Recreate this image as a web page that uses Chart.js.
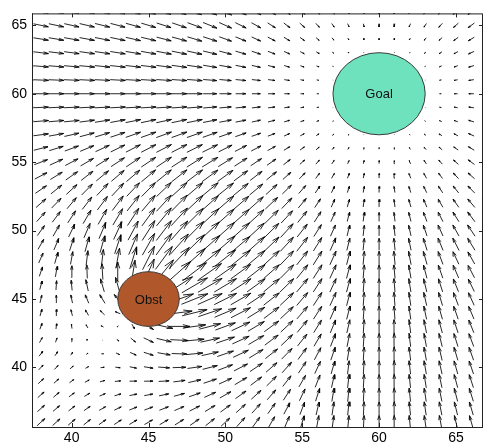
<!DOCTYPE html>
<html>
<head>
<meta charset="utf-8">
<script src="https://cdn.jsdelivr.net/npm/chart.js@4.4.1/dist/chart.umd.min.js"></script>
<style>
  html, body { margin: 0; padding: 0; background: #fff; }
  #wrap { width: 484px; height: 443px; }
</style>
</head>
<body>
<div id="wrap"><canvas id="fieldChart"></canvas></div>
<script>
// sample grid (data units)
var gridX = [37, 38, 39, 40, 41, 42, 43, 44, 45, 46, 47, 48, 49, 50, 51, 52,
             53, 54, 55, 56, 57, 58, 59, 60, 61, 62, 63, 64, 65, 66, 67];
var gridY = [35, 36, 37, 38, 39, 40, 41, 42, 43, 44, 45, 46, 47, 48, 49, 50,
             51, 52, 53, 54, 55, 56, 57, 58, 59, 60, 61, 62, 63, 64, 65, 66];
var xTicks = [40, 45, 50, 55, 60, 65];
var yTicks = [40, 45, 50, 55, 60, 65];

// goal (attracts) and obstacle (repels)
var goal = { x: 60, y: 60, r: 3, spread: 9, gain: 0.11, label: 'Goal' };
var obst = { x: 45, y: 45, r: 2, spread: 12, gain: 0.1, label: 'Obst' };

var FONT = '"Liberation Sans", Arial, Helvetica, sans-serif';

function fieldAt(px, py) {
  var u = 0, v = 0;
  var dx = goal.x - px, dy = goal.y - py, d = Math.hypot(dx, dy);
  if (d > goal.r) {
    var m = goal.gain * Math.min(d - goal.r, goal.spread);
    u += m * dx / d;
    v += m * dy / d;
  }
  dx = px - obst.x; dy = py - obst.y; d = Math.hypot(dx, dy);
  if (d < obst.r) return null;
  if (d <= obst.r + obst.spread) {
    var k = obst.gain * (obst.r + obst.spread - d);
    u += k * dx / d;
    v += k * dy / d;
  }
  return [u, v];
}

// arrows centred on the grid points, heads as two short strokes
var headLen = 0.33, headWid = 0.28;
var arrowData = [];
gridY.forEach(function (y) {
  gridX.forEach(function (x) {
    var f = fieldAt(x, y);
    if (!f) return;
    var u = f[0], v = f[1];
    if (Math.hypot(u, v) < 1e-6) return;
    var x1 = x + u / 2, y1 = y + v / 2;
    arrowData.push(
      { x: x - u / 2, y: y - v / 2 }, { x: x1, y: y1 }, { x: null, y: null },
      { x: x1 - headLen * (u + headWid * v), y: y1 - headLen * (v - headWid * u) },
      { x: x1, y: y1 },
      { x: x1 - headLen * (u - headWid * v), y: y1 - headLen * (v + headWid * u) },
      { x: null, y: null }
    );
  });
});

var shapesPlugin = {
  id: 'shapes',
  afterDatasetsDraw: function (chart) {
    var c = chart.ctx, sx = chart.scales.x, sy = chart.scales.y;
    [[goal, '#6de2bd'], [obst, '#b0572b']].forEach(function (it) {
      var o = it[0];
      var cx = sx.getPixelForValue(o.x), cy = sy.getPixelForValue(o.y);
      var rx = Math.abs(sx.getPixelForValue(o.x + o.r) - cx);
      var ry = Math.abs(sy.getPixelForValue(o.y + o.r) - cy);
      c.save();
      c.beginPath();
      c.ellipse(cx, cy, rx, ry, 0, 0, Math.PI * 2);
      c.fillStyle = it[1];
      c.fill();
      c.lineWidth = 1;
      c.strokeStyle = '#3a3a3a';
      c.stroke();
      c.fillStyle = '#111';
      c.font = '13px ' + FONT;
      c.textAlign = 'center';
      c.textBaseline = 'middle';
      c.fillText(o.label, cx, cy + 1);
      c.restore();
    });
  }
};

var framePlugin = {
  id: 'frame',
  afterDraw: function (chart) {
    var c = chart.ctx, a = chart.chartArea, sx = chart.scales.x, sy = chart.scales.y;
    c.save();
    c.strokeStyle = '#222';
    c.lineWidth = 1;
    c.strokeRect(a.left + 0.5, a.top + 0.5, a.right - a.left - 1, a.bottom - a.top);
    c.beginPath();
    xTicks.forEach(function (t) {
      var p = Math.round(sx.getPixelForValue(t)) + 0.5;
      c.moveTo(p, a.bottom); c.lineTo(p, a.bottom - 4);
      c.moveTo(p, a.top); c.lineTo(p, a.top + 4);
    });
    yTicks.forEach(function (t) {
      var p = Math.round(sy.getPixelForValue(t)) + 0.5;
      c.moveTo(a.left, p); c.lineTo(a.left + 4, p);
      c.moveTo(a.right, p); c.lineTo(a.right - 4, p);
    });
    c.stroke();
    c.restore();
  }
};

var ctx = document.getElementById('fieldChart').getContext('2d');
var fieldChart = new Chart(ctx, {
  type: 'scatter',
  data: {
    datasets: [{
      data: arrowData,
      showLine: true,
      spanGaps: false,
      tension: 0,
      borderColor: '#000',
      borderWidth: 0.85,
      pointRadius: 0,
      pointHoverRadius: 0
    }]
  },
  options: {
    responsive: true,
    maintainAspectRatio: false,
    animation: false,
    events: [],
    layout: { padding: { top: 12, right: 1, left: 0, bottom: 0 } },
    plugins: { legend: { display: false }, tooltip: { enabled: false } },
    scales: {
      x: {
        type: 'linear',
        min: 37.42,
        max: 66.76,
        grid: { display: false, drawTicks: false },
        border: { display: false },
        ticks: { color: '#000', padding: 3, maxRotation: 0, font: { family: FONT, size: 14 } },
        afterBuildTicks: function (s) { s.ticks = xTicks.map(function (v) { return { value: v }; }); },
        afterFit: function (s) { s.height = 16; }
      },
      y: {
        type: 'linear',
        min: 35.65,
        max: 65.87,
        grid: { display: false, drawTicks: false },
        border: { display: false },
        ticks: { color: '#000', padding: 5, font: { family: FONT, size: 14 } },
        afterBuildTicks: function (s) { s.ticks = yTicks.map(function (v) { return { value: v }; }); },
        afterFit: function (s) { s.width = 32; }
      }
    }
  },
  plugins: [shapesPlugin, framePlugin]
});
</script>
</body>
</html>
